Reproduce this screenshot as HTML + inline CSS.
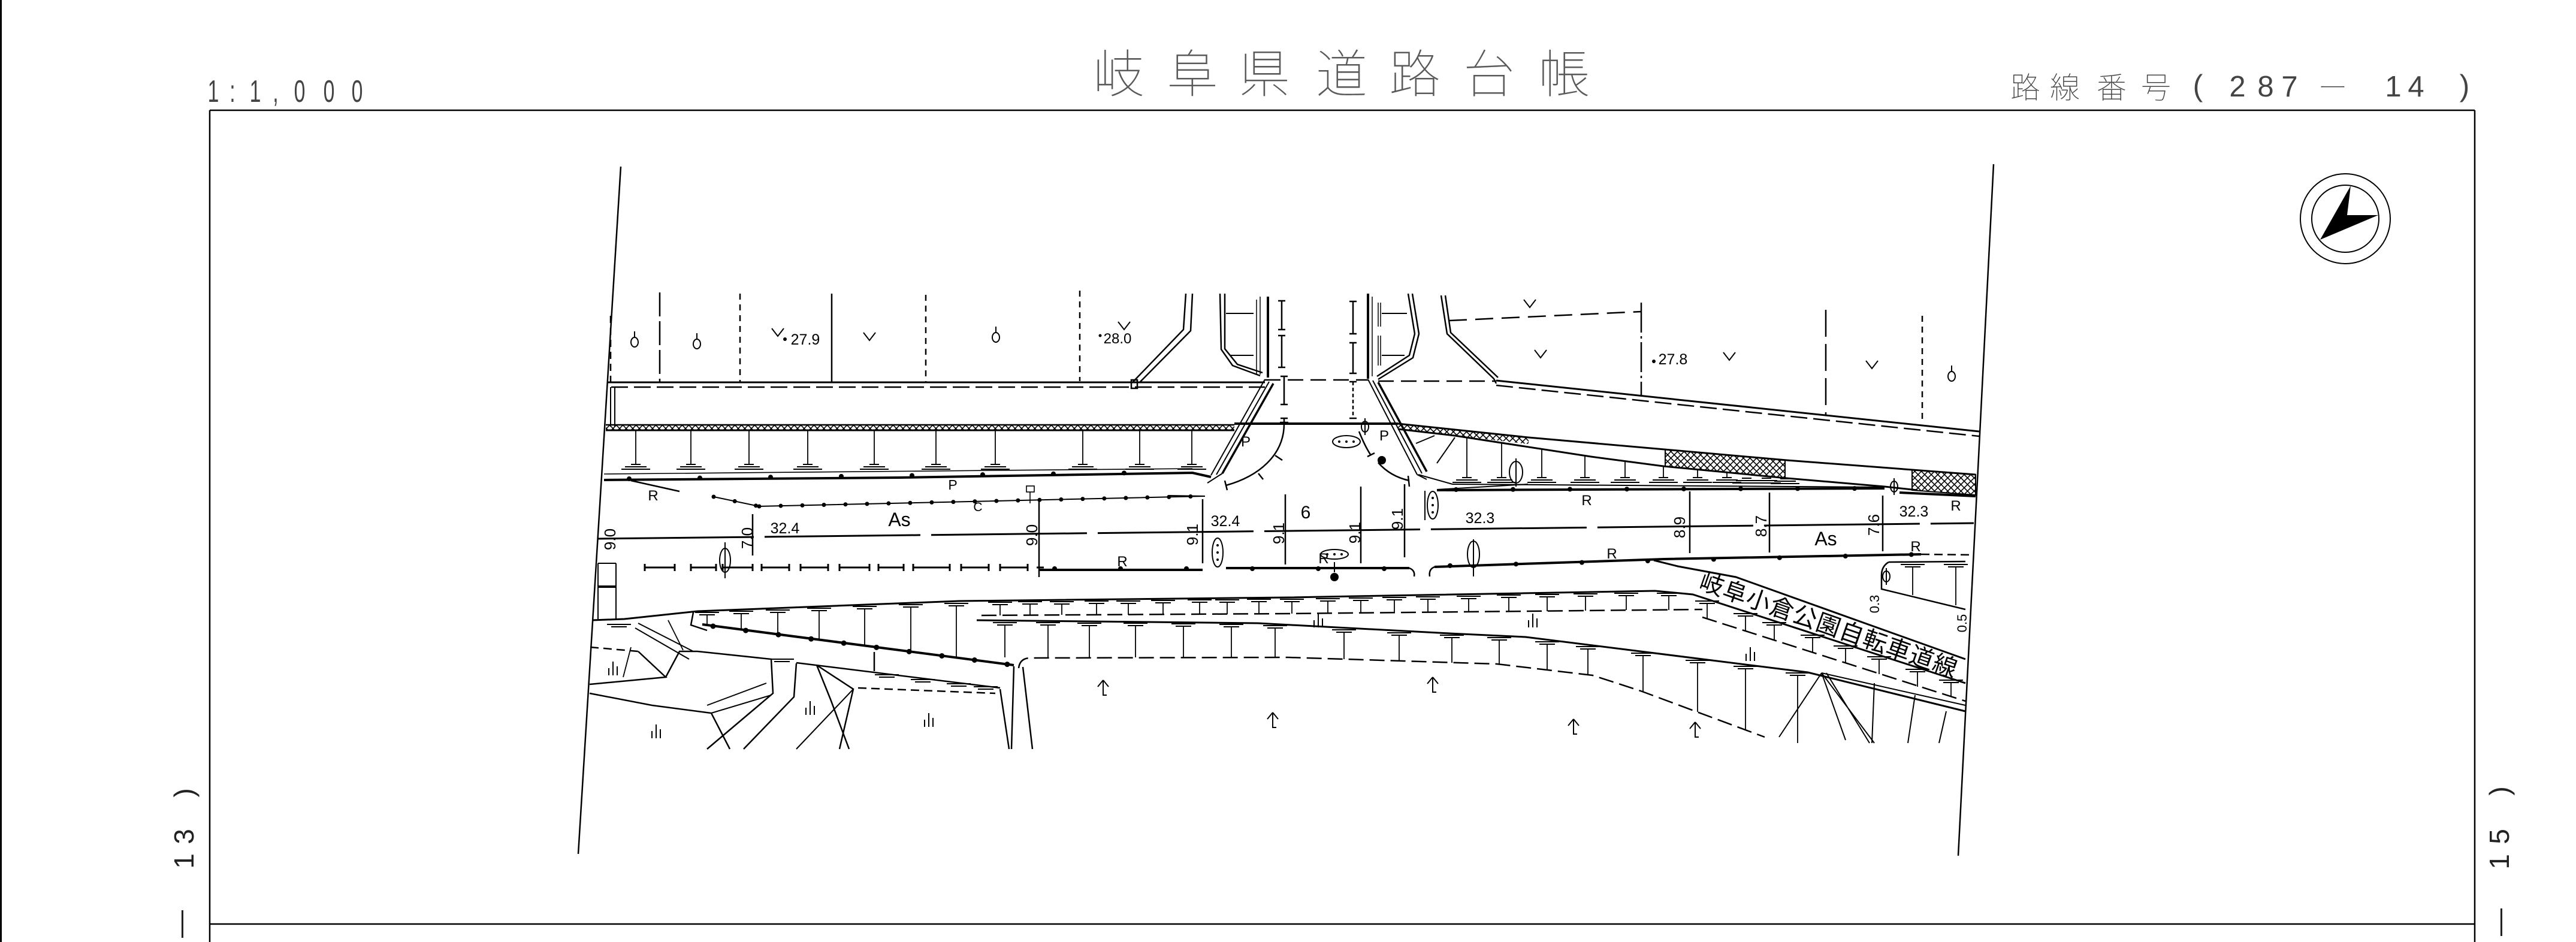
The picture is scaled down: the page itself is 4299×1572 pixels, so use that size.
<!DOCTYPE html>
<html lang="ja"><head><meta charset="utf-8"><title>岐阜県道路台帳</title>
<style>
html,body{margin:0;padding:0;background:#fff}
body{width:4299px;height:1572px;overflow:hidden}
svg{display:block}
</style></head><body>
<svg xmlns="http://www.w3.org/2000/svg" width="4299" height="1572" viewBox="0 0 4299 1572">
<defs>
 <pattern id="hx" width="11" height="11" patternUnits="userSpaceOnUse"><path d="M0,0 L11,11 M11,0 L0,11" stroke="#000" stroke-width="1.6" fill="none"/></pattern>
 <g id="gb"><path d="M-8,-3 H8 M-18,1 H18 M-24,5 H24" stroke="#000" stroke-width="2" fill="none"/></g>
 <g id="gt"><path d="M-20,0 H20 M-13,4 H13" stroke="#000" stroke-width="2" fill="none"/></g>
 <g id="gm"><path d="M-7,-2 V10 M0,-13 V10 M7,-5 V10" stroke="#000" stroke-width="2" fill="none"/></g>
 <g id="gr"><path d="M0,-13 L-9,-2 M0,-13 L9,-2 M0,-13 V12 H6" stroke="#000" stroke-width="2" fill="none"/></g>
 <g id="go"><path d="M0,-18 V-8" stroke="#000" stroke-width="2"/><ellipse cx="0" cy="0" rx="6" ry="8" stroke="#000" stroke-width="2" fill="none"/></g>
 <g id="gp"><path d="M0,-14 V14" stroke="#000" stroke-width="2"/><ellipse cx="0" cy="0" rx="6" ry="9" stroke="#000" stroke-width="2" fill="none"/></g>
 <g id="gv"><path d="M-10,0 L0,13 L10,0" stroke="#000" stroke-width="2" fill="none"/></g>
</defs>

<!-- ===== Frame ===== -->
<g stroke="#000" fill="none">
 <path d="M1.5,0 V1572" stroke-width="3"/>
 <path d="M350,184 H4130 M350,184 V1572 M4130,184 V1572 M350,1542 H4130" stroke-width="2.5"/>
</g>

<!-- ===== Header text ===== -->
<g font-family="'Liberation Sans','Noto Sans CJK JP',sans-serif" fill="#5a5a5a" font-size="86" font-weight="100" text-anchor="middle">
 <text x="1867" y="154">岐</text><text x="1990" y="154">阜</text><text x="2110" y="154">県</text><text x="2239" y="154">道</text><text x="2361" y="154">路</text><text x="2485" y="154">台</text><text x="2610" y="154">帳</text>
</g>
<g font-family="'Liberation Sans','Noto Sans CJK JP',sans-serif" fill="#444" font-size="50" font-weight="100" text-anchor="middle">
 <text x="3380" y="164">路</text><text x="3446" y="164">線</text><text x="3524" y="164">番</text><text x="3598" y="164">号</text>
 <text x="3668" y="160">(</text>
 <text x="3734" y="161" font-size="49">2</text><text x="3781" y="161" font-size="49">8</text><text x="3821" y="161" font-size="49">7</text>
 <text x="3893" y="164">ー</text>
 <text x="3994" y="161" font-size="49">1</text><text x="4032" y="161" font-size="49">4</text>
 <text x="4113" y="160">)</text>
</g>
<g font-family="'Liberation Sans',sans-serif" fill="#444" font-size="52" text-anchor="middle">
 <text transform="translate(356,170) scale(0.65,1)">1</text>
 <text transform="translate(388,170) scale(0.65,1)">:</text>
 <text transform="translate(426,170) scale(0.65,1)">1</text>
 <text transform="translate(460,170) scale(0.65,1)">,</text>
 <text transform="translate(500,170) scale(0.65,1)">0</text>
 <text transform="translate(549,170) scale(0.65,1)">0</text>
 <text transform="translate(596,170) scale(0.65,1)">0</text>
</g>
<!-- side labels -->
<g font-family="'Liberation Sans',sans-serif" fill="#222" font-size="46" text-anchor="middle">
 <text transform="translate(323,1323) rotate(-90)">)</text>
 <text transform="translate(323,1396) rotate(-90)">3</text>
 <text transform="translate(323,1437) rotate(-90)">1</text>
 <text transform="translate(316,1542) rotate(-90)">—</text>
 <text transform="translate(4187,1320) rotate(-90)">)</text>
 <text transform="translate(4187,1396) rotate(-90)">5</text>
 <text transform="translate(4187,1438) rotate(-90)">1</text>
 <text transform="translate(4186,1539) rotate(-90)">—</text>
</g>

<!-- ===== North arrow ===== -->
<g stroke="#000" stroke-width="2" fill="none">
 <circle cx="3914" cy="365" r="75"/>
 <circle cx="3914" cy="365" r="56"/>
</g>
<polygon points="3923,310 3917,359 3969,359 3872,400" fill="#000"/>

<!-- ===== Drawing ===== -->
<g stroke="#000" fill="none" stroke-width="2.5">
 <!-- boundaries -->
 <path d="M1036,278 L965,1425"/>
 <path d="M3327,274 L3268,1428"/>

 <!-- west parcel verticals -->
 <path d="M1101,488 V637" stroke-dasharray="40 8"/>
 <path d="M1235,490 V637" stroke-dasharray="10 8"/>
 <path d="M1388,490 V637"/>
 <path d="M1545,492 V637" stroke-dasharray="10 8"/>
 <path d="M1802,485 V636" stroke-dasharray="10 8"/>
 <path d="M1019,527 V637" stroke-dasharray="12 8"/>

 <!-- north road edge west -->
 <path d="M1013,638 H2111" stroke-width="3"/>
 <path d="M1020,646 H2111" stroke-dasharray="28 10"/>
 <path d="M1019,646 V712 M1026,646 V712" stroke-width="2"/>

 <!-- west driveway -->
 <path d="M1979,490 L1975,550 L1891,637"/>
 <path d="M1990,490 L1987,552 L1903,637"/>
 <rect x="1888" y="634" width="10" height="14"/>

 <!-- west side-road curb -->
 <path d="M2036,490 L2038,583 L2057,610 L2103,627"/>
 <path d="M2044,490 L2044,582 L2065,608 L2107,622"/>
 <path d="M2097,500 V625 M2103,495 V625" stroke-width="1.5"/>
 <path d="M2116,495 V630" stroke-width="4"/>
 <path d="M2046,523 H2092 M2053,593 H2092" stroke-width="2"/>

 <!-- dimension I marks -->
 <path d="M2139,502V550M2133,502H2145M2133,550H2145 M2139,560V613M2133,560H2145M2133,613H2145 M2143,628V675M2137,628H2149M2137,675H2149 M2143,698V707M2137,698H2149"/>
 <path d="M2258,503V557M2252,503H2264M2252,557H2264 M2258,572V623M2252,572H2264M2252,623H2264 M2252,637H2264M2252,698H2264"/>
 <path d="M2258,637V698" stroke-dasharray="6 4"/>

 <!-- east side-road curb -->
 <path d="M2283,490 V632" stroke-width="4"/>
 <path d="M2290,495 V628" stroke-width="1.5"/>
 <path d="M2350,490 L2361,557 L2352,593 L2298,628"/>
 <path d="M2357,490 L2368,557 L2358,597 L2300,633"/>
 <path d="M2306,523 H2348 M2306,593 H2344" stroke-width="2"/>
 <path d="M2300,505 V545 M2304,505 V545 M2300,560 V610 M2304,560 V610" stroke-width="1.5"/>

 <!-- east driveway -->
 <path d="M2405,493 L2415,557 L2493,632 L2497,640"/>
 <path d="M2412,493 L2421,555 L2500,630"/>

 <!-- east parcels -->
 <path d="M2418,535 L2739,520" stroke-dasharray="30 14"/>
 <path d="M2739,505 V660" stroke-dasharray="50 6 4 6"/>
 <path d="M3047,517 V693" stroke-dasharray="45 12"/>
 <path d="M3208,527 V707" stroke-dasharray="10 8"/>

 <!-- north road edge east + intersection dashed -->
 <path d="M2497,635 L3303,720" stroke-width="3"/>
 <path d="M2497,643 L3303,728" stroke-dasharray="28 10"/>
 <path d="M2111,634 H2283" stroke-dasharray="26 12"/>
 <path d="M2300,636 H2497" stroke-dasharray="26 12"/>

 <!-- west hatched curb band -->
 <rect x="1011" y="709" width="1049" height="9" fill="url(#hx)" stroke="none"/>
 <path d="M1011,709 H2060" stroke-width="2.5"/>
 <path d="M1011,718 H2060" stroke-width="3"/>
 <path d="M2060,707 H2333" stroke-width="4"/>

 <!-- east hatched curb band -->
 <polygon points="2333,707 2428,717 2551,730 2551,741 2428,727 2333,716" fill="url(#hx)" stroke="none"/>
 <path d="M2333,707 L2428,717 L2551,730 L2982,768 L3297,792" stroke-width="3"/>
 <path d="M2333,716 L2428,727 L2655,762 L2776,778 L2982,798 L3145,812 L3200,818" stroke-width="3"/>
 <polygon points="2779,750 2979,768 2979,798 2779,778" fill="url(#hx)" stroke-width="2"/>
 <polygon points="3191,784 3297,792 3297,826 3191,818" fill="url(#hx)" stroke-width="2"/>

 <!-- west sidewalk stems -->
 <path d="M1061,718V775 M1153,718V775 M1250,718V775 M1348,718V775 M1459,718V775 M1562,718V775 M1661,718V775 M1807,718V775 M1902,718V775 M1989,718V775" stroke-width="1.8"/>
 <!-- east sidewalk stems -->
 <path d="M2448,730V797 M2506,739V797 M2573,749V797 M2645,760V797 M2712,770V797 M2776,778V797 M2833,784V797 M2882,788V797" stroke-width="1.8"/>
 <path d="M2428,730 L2398,773 M2394,727 L2363,740 M2367,792 L2424,808" stroke-width="2"/>

 <!-- west curb lines -->
 <path d="M1008,791 L1990,782" stroke-width="1.6"/>
 <path d="M1008,801 L1500,797 L1990,789 L2021,796" stroke-width="4"/>
 <path d="M1050,799 L1990,788" stroke-width="8" stroke-dasharray="0 118" stroke-linecap="round"/>
 <path d="M1053,802 L1134,820" stroke-width="2.5"/>

 <!-- east curb lines -->
 <path d="M2424,808 L3145,813" stroke-width="2"/>
 <path d="M2398,818 L3145,815" stroke-width="4"/>
 <path d="M2430,817 L3145,815" stroke-width="8" stroke-dasharray="0 95" stroke-linecap="round"/>
 <path d="M3170,822 L3297,828" stroke-width="4"/>

 <!-- west lane line with dots -->
 <path d="M1191,829 L1267,845 L2010,828" stroke-width="2"/>
 <path d="M1267,845 L2010,828" stroke-width="7" stroke-dasharray="0 36" stroke-linecap="round"/>
 <path d="M1191,829 L1267,845" stroke-width="7" stroke-dasharray="0 36" stroke-linecap="round"/>
 <path d="M1950,827 L2011,828" stroke-width="2"/>
 <rect x="1713" y="811" width="13" height="10" stroke-width="1.6"/>
 <path d="M1719,821 V840" stroke-width="1.6"/>
 <path d="M2398,817 L2550,808" stroke-width="2"/>

 <!-- centerline -->
 <path d="M998,899 L2150,886 L3294,873" stroke-width="3" stroke-dasharray="260 18"/>

 <!-- lower lane line west (I segments) -->
 <path d="M1076,947H1126M1076,941V953M1126,941V953 M1153,947H1195M1153,941V953M1195,941V953 M1206,947H1256M1206,941V953M1256,941V953 M1271,947H1317M1271,941V953M1317,941V953 M1336,947H1382M1336,941V953M1382,941V953 M1401,947H1451M1401,941V953M1451,941V953 M1466,947H1508M1466,941V953M1508,941V953 M1524,947H1585M1524,941V953M1585,941V953 M1604,947H1650M1604,941V953M1650,941V953 M1669,947H1715M1669,941V953M1715,941V953 M1730,947H1742" stroke-width="3"/>
 <!-- lower R lines -->
 <path d="M1735,951 H2007 M2046,948 H2352" stroke-width="4"/>
 <path d="M2394,946 L2777,933 L3206,925" stroke-width="4"/>
 <path d="M3206,925 L3294,926" stroke-dasharray="14 8"/>
 <path d="M1760,949 H2352" stroke-width="8" stroke-dasharray="0 110" stroke-linecap="round"/>
 <path d="M2420,944 L3206,925" stroke-width="8" stroke-dasharray="0 110" stroke-linecap="round"/>
 <path d="M2352,948 Q2362,952 2360,962 M2394,946 Q2384,950 2386,962" stroke-width="2.5"/>

 <!-- station verticals -->
 <path d="M1256,858V927 M1734,837V963 M2007,833V940 M2145,825V942 M2271,812V940 M2344,808V930 M2820,820V923 M2953,822V922 M3142,827V920" stroke-width="2.5"/>

 <!-- intersection diagonals -->
 <path d="M2111,633 L2021,793 M2118,637 L2030,792" stroke-width="2"/>
 <path d="M2125,640 L2040,790" stroke-width="3.5"/>
 <path d="M2283,633 L2365,792 M2291,635 L2373,790" stroke-width="2"/>
 <path d="M2300,638 L2381,787" stroke-width="3.5"/>
 <path d="M2015,806 L2040,790 M2365,792 L2381,800" stroke-width="2"/>

 <!-- intersection arcs -->
 <path d="M2143,707 C2143,760 2100,795 2046,810" stroke-width="2.5"/>
 <path d="M2128,760 L2140,768 M2100,790 L2108,800 M2044,802 L2048,818 M2136,705 H2150" stroke-width="2.5"/>
 <path d="M2268,720 Q2278,745 2288,760 M2300,772 Q2320,795 2352,802" stroke-width="2.5"/>
 <path d="M2282,762 L2294,756 M2350,794 L2352,812" stroke-width="2.5"/>

 <!-- ovals -->
 <ellipse cx="2247" cy="737" rx="23" ry="10" stroke-width="2"/>
 <ellipse cx="2391" cy="843" rx="9" ry="23" stroke-width="2"/>
 <ellipse cx="2032" cy="922" rx="9" ry="24" stroke-width="2"/>
 <ellipse cx="2227" cy="925" rx="23" ry="8" stroke-width="2"/>
 <ellipse cx="1210" cy="935" rx="9" ry="20" stroke-width="2"/>
 <path d="M1210,905 V965 M2459,900 V962 M2530,765 V812" stroke-width="2"/>
 <ellipse cx="2459" cy="925" rx="10" ry="22" stroke-width="2"/>
 <ellipse cx="2530" cy="788" rx="11" ry="18" stroke-width="2"/>
 <path d="M2378,819 V868 M2227,938 V955" stroke-width="2"/>

 <!-- ===== south banks ===== -->
 <path d="M988,1035 L1042,1033 L1164,1020 L1600,1003 L2150,997 L2762,986 L2825,992 L3280,1140" stroke-width="3"/>
 <path d="M2760,935 L2800,945 L2897,963 L3280,1100" stroke-width="3"/>
 <path d="M1638,1027 L2150,1024 L2841,1017" stroke-dasharray="25 10"/>
 <path d="M2841,1030 L3280,1170" stroke-dasharray="25 10"/>
 <path d="M1630,1035 L2100,1040 L2419,1057 L2546,1063 L3017,1122 L3280,1187" stroke-width="3"/>
 <path d="M1700,1115 Q1702,1098 1720,1098 L2150,1097 L2498,1108 L2658,1127 L2738,1153 L2945,1230" stroke-dasharray="25 10"/>
 <path d="M1172,1042 L1692,1110" stroke-width="4"/>
 <path d="M1190,1045 L1692,1110" stroke-width="9" stroke-dasharray="0 55" stroke-linecap="round"/>

 <!-- hanging stems from U1 -->
 <path d="M1180,1025V1043 M1237,1023V1050 M1298,1021V1058 M1367,1018V1068 M1443,1015V1077 M1520,1012V1087 M1596,1010V1097
          M1669,1008V1027 M1719,1007V1027 M1772,1007V1026 M1830,1006V1026 M1883,1006V1026 M1941,1005V1025 M2002,1004V1025 M2048,1004V1025 M2101,1003V1024
          M2156,1003V1024 M2216,1002V1023 M2271,1001V1023 M2327,1000V1022 M2383,999V1022 M2451,998V1021 M2518,996V1020 M2582,995V1020 M2646,994V1019 M2714,993V1018 M2785,993V1018
          M2849,1006V1032 M2913,1027V1053 M2961,1042V1068 M3025,1063V1089 M3080,1081V1107 M3136,1099V1125 M3200,1120V1146 M3256,1138V1162" stroke-width="1.8"/>
 <!-- L2 stems -->
 <path d="M1677,1042V1097 M1749,1042V1097 M1818,1043V1097 M1895,1043V1097 M1975,1044V1097 M2055,1045V1097 M2128,1047V1097
          M2243,1054V1100 M2335,1059V1103 M2423,1063V1106 M2502,1067V1108 M2582,1074V1118 M2650,1082V1126 M2742,1093V1154 M2833,1105V1188 M2913,1115V1218 M3000,1126V1240" stroke-width="1.8"/>

 <!-- bottom-right lines -->
 <path d="M3040,1123 L3128,1240 M3048,1123 L3120,1240 M3040,1123 L2969,1230 M3040,1123 L3080,1235" stroke-width="2"/>
 <path d="M3128,1140 L3124,1240 M3196,1160 L3184,1240 M3248,1187 L3236,1240 M3040,1123 L3280,1177" stroke-width="2"/>
 <!-- right box near boundary -->
 <path d="M3152,938 L3280,937 M3152,938 Q3140,945 3140,960 L3140,983 L3280,1017" stroke-width="2.5"/>
 <path d="M3192,945 V993 M3264,945 V1010" stroke-width="1.8"/>

 <!-- lower-left mesh -->
 <path d="M1157,1022 L1153,1043 L1180,1052"/>
 <path d="M1164,1087 L1287,1100 L1290,1157 L1180,1250"/>
 <path d="M1329,1106 L1669,1148"/>
 <path d="M1432,1148 L1661,1157" stroke-dasharray="14 8"/>
 <path d="M1329,1107 L1325,1163 L1241,1250"/>
 <path d="M1459,1088 V1120"/>
 <path d="M1692,1112 L1688,1250 M1707,1113 L1723,1250 M1669,1150 L1684,1250"/>
 <path d="M985,1080 L1065,1087" stroke-dasharray="14 8"/>
 <path d="M1065,1087 L1111,1130 L984,1142"/>
 <path d="M1111,1130 L1134,1087 L1164,1087"/>
 <path d="M1065,1040 L1157,1087 M1060,1048 L1150,1100" stroke-width="2"/>
 <path d="M984,1157 L1088,1177 L1187,1190 L1218,1250"/>
 <path d="M1187,1190 L1287,1160 M1180,1177 L1279,1140" stroke-width="2"/>
 <path d="M1363,1110 L1386,1167 L1417,1250"/>
 <path d="M1363,1110 L1424,1150 L1401,1250"/>
 <path d="M1424,1150 L1329,1250" stroke-width="2"/>
 <path d="M1053,1080 L1040,1130 M1115,1035 L1140,1085" stroke-width="1.8"/>

 <!-- left boundary rect -->
 <path d="M998,940 V1033 M1028,940 V1033 M998,940 H1028" stroke-width="2"/>
 <path d="M998,979 H1028" stroke-width="4"/>
</g>

<!-- symbols -->
<g>
 <use href="#gb" x="1061" y="778"/><use href="#gb" x="1153" y="778"/><use href="#gb" x="1250" y="778"/><use href="#gb" x="1348" y="778"/><use href="#gb" x="1459" y="778"/><use href="#gb" x="1562" y="778"/><use href="#gb" x="1661" y="778"/><use href="#gb" x="1807" y="778"/><use href="#gb" x="1902" y="778"/><use href="#gb" x="1989" y="778"/>
 <use href="#gb" x="2448" y="800"/><use href="#gb" x="2506" y="800"/><use href="#gb" x="2573" y="800"/><use href="#gb" x="2645" y="800"/><use href="#gb" x="2712" y="800"/><use href="#gb" x="2776" y="800"/><use href="#gb" x="2833" y="800"/><use href="#gb" x="2882" y="800"/><use href="#gb" x="2915" y="801"/><use href="#gb" x="2948" y="801"/><use href="#gb" x="2979" y="802"/>
 <use href="#gt" x="1180" y="1022"/><use href="#gt" x="1237" y="1020"/><use href="#gt" x="1298" y="1018"/><use href="#gt" x="1367" y="1015"/><use href="#gt" x="1443" y="1012"/><use href="#gt" x="1520" y="1009"/><use href="#gt" x="1596" y="1007"/>
 <use href="#gt" x="1669" y="1005"/><use href="#gt" x="1719" y="1004"/><use href="#gt" x="1772" y="1004"/><use href="#gt" x="1830" y="1003"/><use href="#gt" x="1883" y="1003"/><use href="#gt" x="1941" y="1002"/><use href="#gt" x="2002" y="1001"/><use href="#gt" x="2048" y="1001"/><use href="#gt" x="2101" y="1000"/>
 <use href="#gt" x="2156" y="1000"/><use href="#gt" x="2216" y="999"/><use href="#gt" x="2271" y="998"/><use href="#gt" x="2327" y="997"/><use href="#gt" x="2383" y="996"/><use href="#gt" x="2451" y="995"/><use href="#gt" x="2518" y="993"/><use href="#gt" x="2582" y="992"/><use href="#gt" x="2646" y="991"/><use href="#gt" x="2714" y="990"/><use href="#gt" x="2785" y="990"/>
 <use href="#gt" x="2849" y="1003"/><use href="#gt" x="2913" y="1024"/><use href="#gt" x="2961" y="1039"/><use href="#gt" x="3025" y="1060"/><use href="#gt" x="3080" y="1078"/><use href="#gt" x="3136" y="1096"/><use href="#gt" x="3200" y="1117"/><use href="#gt" x="3256" y="1135"/>
 <use href="#gt" x="1677" y="1039"/><use href="#gt" x="1749" y="1039"/><use href="#gt" x="1818" y="1040"/><use href="#gt" x="1895" y="1040"/><use href="#gt" x="1975" y="1041"/><use href="#gt" x="2055" y="1042"/><use href="#gt" x="2128" y="1044"/>
 <use href="#gt" x="2243" y="1051"/><use href="#gt" x="2335" y="1056"/><use href="#gt" x="2423" y="1060"/><use href="#gt" x="2502" y="1064"/><use href="#gt" x="2582" y="1071"/><use href="#gt" x="2650" y="1079"/><use href="#gt" x="2742" y="1090"/><use href="#gt" x="2833" y="1102"/><use href="#gt" x="2913" y="1112"/><use href="#gt" x="3000" y="1123"/>
 <use href="#gt" x="3192" y="942"/><use href="#gt" x="3264" y="942"/>
 <use href="#gt" x="1033" y="1042"/><use href="#gt" x="1305" y="1100"/><use href="#gt" x="1480" y="1126"/><use href="#gt" x="1540" y="1134"/><use href="#gt" x="1600" y="1141"/><use href="#gt" x="1645" y="1146"/>

 <use href="#gm" x="1023" y="1117"/><use href="#gm" x="1095" y="1222"/><use href="#gm" x="1352" y="1183"/><use href="#gm" x="1550" y="1203"/><use href="#gm" x="2200" y="1037"/><use href="#gm" x="2558" y="1037"/><use href="#gm" x="2921" y="1093"/>
 <use href="#gr" x="1841" y="1148"/><use href="#gr" x="2124" y="1202"/><use href="#gr" x="2391" y="1143"/><use href="#gr" x="2626" y="1213"/><use href="#gr" x="2829" y="1218"/>

 <use href="#go" x="1059" y="571"/><use href="#go" x="1163" y="574"/><use href="#go" x="1662" y="563"/><use href="#go" x="3257" y="628"/>
 <use href="#gv" x="1298" y="548"/><use href="#gv" x="1451" y="555"/><use href="#gv" x="1876" y="537"/><use href="#gv" x="2553" y="500"/><use href="#gv" x="2571" y="584"/><use href="#gv" x="2886" y="588"/><use href="#gv" x="3124" y="602"/>
 <use href="#gp" x="2278" y="712"/><use href="#gp" x="3161" y="812"/><use href="#gp" x="3148" y="962"/>
</g>
<g fill="#000">
 <circle cx="2306" cy="768" r="7"/>
 <circle cx="2227" cy="963" r="7"/>
 <circle cx="1310" cy="566" r="3"/>
 <circle cx="2760" cy="603" r="3"/>
 <circle cx="1836" cy="560" r="2.5"/>
 <circle cx="2235" cy="737" r="2"/><circle cx="2247" cy="737" r="2"/><circle cx="2259" cy="737" r="2"/>
 <circle cx="2391" cy="831" r="2"/><circle cx="2391" cy="843" r="2"/><circle cx="2391" cy="855" r="2"/>
 <circle cx="2032" cy="910" r="2"/><circle cx="2032" cy="922" r="2"/><circle cx="2032" cy="934" r="2"/>
 <circle cx="2215" cy="925" r="2"/><circle cx="2227" cy="925" r="2"/><circle cx="2239" cy="925" r="2"/>
</g>

<!-- drawing labels -->
<g font-family="'Liberation Sans',sans-serif" fill="#000" text-anchor="middle">
 <text x="1344" y="575" font-size="25">27.9</text>
 <text x="1865" y="573" font-size="24">28.0</text>
 <text x="2792" y="608" font-size="25">27.8</text>
 <text x="1310" y="890" font-size="25">32.4</text>
 <text x="2045" y="878" font-size="25">32.4</text>
 <text x="2470" y="873" font-size="25">32.3</text>
 <text x="3194" y="862" font-size="25">32.3</text>
 <text x="1501" y="878" font-size="32">As</text>
 <text x="3047" y="910" font-size="32">As</text>
 <text x="2179" y="865" font-size="30">6</text>
 <text x="1632" y="853" font-size="21">C</text>
 <text x="1590" y="817" font-size="23">P</text>
 <text x="2079" y="745" font-size="24">P</text>
 <text x="2310" y="735" font-size="24">P</text>
 <text x="1090" y="835" font-size="24">R</text>
 <text x="1873" y="945" font-size="24">R</text>
 <text x="2209" y="940" font-size="24">R</text>
 <text x="2648" y="843" font-size="24">R</text>
 <text x="2690" y="932" font-size="24">R</text>
 <text x="3197" y="920" font-size="24">R</text>
 <text x="3264" y="852" font-size="24">R</text>
 <g font-size="26">
  <text transform="translate(1027,900) rotate(-90)">9.0</text>
  <text transform="translate(1256,898) rotate(-90)">7.0</text>
  <text transform="translate(1731,893) rotate(-90)">9.0</text>
  <text transform="translate(1999,892) rotate(-90)">9.1</text>
  <text transform="translate(2143,890) rotate(-90)">9.1</text>
  <text transform="translate(2270,889) rotate(-90)">9.1</text>
  <text transform="translate(2341,866) rotate(-90)">9.1</text>
  <text transform="translate(2812,880) rotate(-90)">8.9</text>
  <text transform="translate(2948,878) rotate(-90)">8.7</text>
  <text transform="translate(3136,876) rotate(-90)">7.6</text>
  <text transform="translate(3136,1008) rotate(-90)" font-size="22">0.3</text>
  <text transform="translate(3282,1040) rotate(-90)" font-size="22">0.5</text>
 </g>
</g>
<text transform="translate(2857,975) rotate(19.3)" x="-20" y="14" font-size="40" letter-spacing="1.2" font-family="'Liberation Sans','Noto Sans CJK JP',sans-serif" fill="#000">岐阜小倉公園自転車道線</text>
</svg>
</body></html>
